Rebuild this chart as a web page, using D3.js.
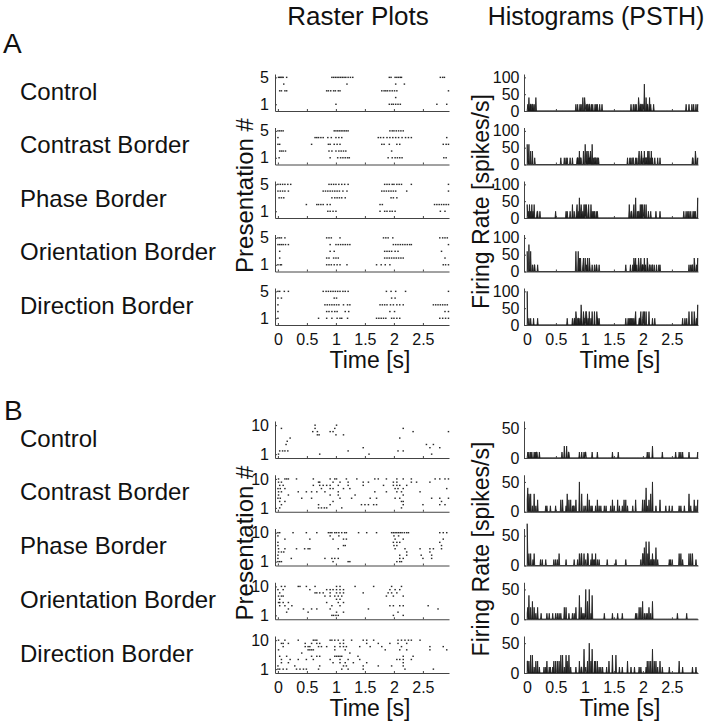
<!DOCTYPE html>
<html>
<head>
<meta charset="utf-8">
<script src="https://cdn.jsdelivr.net/npm/d3@7"></script>
<style>
  body { margin: 0; background: #fff; }
  svg { display: block; font-family: "Liberation Sans", Arial, Helvetica, sans-serif; }
</style>
</head>
<body>
<svg width="712" height="724"></svg>
<script>
// ---- data ----
const conditions = ["Control", "Contrast Border", "Phase Border", "Orientation Border", "Direction Border"];
const timeTicks = [0, 0.5, 1, 1.5, 2, 2.5];
const trialTicksA = [1, 5];
const trialTicksB = [1, 10];
const rateTicksA = [0, 50, 100];
const rateTicksB = [0, 50];
const binWidth = 0.01; // s

// spike times (s), one array per presentation, presentation 1 first
const spikesA_control = [
  [1.00, 1.92, 1.96, 1.99, 2.03, 2.07, 2.11, 2.74, 2.91],
  [2.03],
  [0.03, 0.06, 0.12, 0.15, 0.84, 0.87, 0.91, 0.96, 0.99, 1.04, 1.07, 1.79, 1.83, 1.86, 1.89, 1.93, 1.97, 2.01, 2.05, 2.94],
  [0.10, 1.19, 2.03, 2.18],
  [0.01, 0.03, 0.05, 0.07, 0.09, 0.15, 0.93, 0.96, 0.99, 1.02, 1.05, 1.08, 1.11, 1.14, 1.17, 1.21, 1.25, 1.29, 1.92, 1.95, 2.02, 2.05, 2.08, 2.11, 2.13, 2.80, 2.84, 2.87]
];
const spikesA_contrast = [
  [0.02, 0.90, 1.03, 1.08, 1.12, 1.16, 1.20, 1.23, 1.90, 1.97, 2.02, 2.06, 2.10, 2.14, 2.86, 2.90],
  [0.03, 0.06, 0.09, 0.13, 0.88, 0.93, 1.00, 1.05, 1.09, 1.13, 1.17, 1.96],
  [0.00, 0.03, 0.58, 0.87, 0.90, 0.97, 1.02, 1.07, 1.79, 1.83, 1.92, 2.05, 2.10, 2.85, 2.90, 2.94],
  [0.00, 0.64, 0.67, 0.70, 0.74, 0.78, 0.86, 0.92, 1.00, 1.05, 1.10, 1.73, 1.77, 1.82, 1.88, 1.93, 1.98, 2.03, 2.08, 2.14, 2.20, 2.25, 2.30, 2.91],
  [0.00, 0.03, 0.06, 0.09, 0.97, 1.00, 1.03, 1.06, 1.09, 1.12, 1.15, 1.18, 1.21, 1.93, 1.97, 2.00, 2.04, 2.08, 2.12, 2.16]
];
const spikesA_phase = [
  [0.86, 0.90, 0.95, 1.00, 1.76, 1.84, 1.88, 1.93, 1.97, 2.02, 2.80, 2.88],
  [0.49, 0.67, 0.70, 0.74, 0.78, 0.85, 0.90, 1.76, 1.80, 2.70, 2.74, 2.78, 2.82, 2.86, 2.90, 2.94],
  [0.02, 0.06, 0.10, 0.93, 0.98, 1.02, 1.06, 1.10, 1.16, 1.95, 1.99, 2.05],
  [0.00, 0.04, 0.08, 0.12, 0.18, 0.78, 0.82, 0.86, 0.90, 0.94, 0.98, 1.02, 1.06, 1.12, 1.19, 1.79, 1.83, 1.87, 1.91, 1.95, 1.99, 2.03, 2.22, 2.94],
  [0.00, 0.04, 0.08, 0.12, 0.17, 0.22, 0.88, 0.92, 0.96, 1.00, 1.05, 1.10, 1.15, 1.21, 1.84, 1.88, 1.92, 1.97, 2.00, 2.05, 2.09, 2.13, 2.30, 2.94]
];
const spikesA_orientation = [
  [0.00, 0.04, 0.06, 0.84, 0.88, 0.92, 0.97, 1.02, 1.07, 1.19, 1.70, 1.78, 1.85, 1.93, 2.85, 2.89, 2.94],
  [0.03, 0.84, 0.88, 0.96, 1.00, 1.04, 1.84, 1.88, 1.92, 1.96, 2.00, 2.04, 2.08, 2.12, 2.16, 2.88],
  [0.03, 0.90, 0.97, 1.84, 1.88, 1.92, 1.96, 2.02, 2.07, 2.82],
  [0.00, 0.03, 0.06, 0.09, 0.13, 0.18, 0.90, 1.00, 1.04, 1.08, 1.12, 1.16, 1.20, 1.24, 1.99, 2.03, 2.07, 2.11, 2.15, 2.19, 2.23, 2.27, 2.30, 2.94],
  [0.00, 0.03, 0.06, 0.12, 0.84, 0.88, 0.92, 1.07, 1.82, 1.86, 1.90, 1.98, 2.79, 2.84, 2.88, 2.92]
];
const spikesA_direction = [
  [0.00, 0.70, 0.84, 0.93, 1.02, 1.07, 1.10, 1.20, 1.70, 1.74, 1.78, 1.82, 1.86, 1.96, 2.00, 2.05, 2.10, 2.79, 2.84, 2.89, 2.94],
  [0.00, 0.84, 0.88, 0.93, 0.98, 1.02, 1.16, 1.22, 1.93, 2.01, 2.88, 2.94],
  [0.00, 0.81, 0.85, 0.89, 0.93, 0.97, 1.01, 1.05, 1.13, 1.20, 1.24, 1.76, 1.80, 1.84, 1.88, 1.94, 1.99, 2.05, 2.10, 2.16, 2.68, 2.72, 2.76, 2.80, 2.84, 2.88, 2.92],
  [0.00, 0.06, 0.97, 1.01, 1.96, 2.02],
  [0.00, 0.03, 0.11, 0.18, 0.78, 0.83, 0.87, 0.91, 0.95, 0.99, 1.03, 1.07, 1.12, 1.16, 1.21, 1.87, 1.95, 2.03, 2.20, 2.94]
];

const spikesB_control = [
  [0.01, 0.72, 1.57, 2.65],
  [0.03, 0.08, 0.12, 0.17, 1.21, 2.07, 2.16],
  [1.47, 2.62, 2.79],
  [0.14, 2.56, 2.68],
  [0.16],
  [0.21, 2.10],
  [0.68, 0.71, 1.00, 1.13],
  [0.60, 0.68, 0.90, 0.95, 2.33, 2.94],
  [0.06, 0.64, 0.98, 2.16],
  [0.64, 1.01]
];
const spikesB_contrast = [
  [0.03, 0.70, 0.75, 0.80, 0.84, 1.10, 2.13],
  [0.06, 0.70, 0.90, 1.44, 1.50, 1.56, 1.65, 1.70, 2.16, 2.50, 2.79, 2.88],
  [0.03, 0.12, 0.95, 2.13, 2.16, 2.82],
  [0.00, 0.04, 0.41, 0.58, 1.07, 1.27, 1.59, 1.70, 2.02, 2.10, 2.65, 2.79, 2.94],
  [0.01, 0.18, 0.90, 1.04, 1.33, 2.16],
  [0.01, 0.06, 0.35, 0.49, 0.58, 0.67, 0.81, 1.04, 1.67, 1.87, 2.05, 2.13, 2.45],
  [0.00, 0.04, 0.12, 0.75, 0.90, 0.95, 1.13, 1.24, 2.02, 2.07, 2.16, 2.91],
  [0.03, 0.09, 0.61, 0.72, 0.78, 0.84, 0.90, 1.04, 1.21, 1.47, 1.82, 1.99, 2.05, 2.10, 2.22],
  [0.01, 0.06, 0.70, 0.72, 0.95, 1.07, 1.21, 1.47, 1.56, 1.99, 2.05, 2.30, 2.39, 2.62],
  [0.01, 0.12, 0.15, 0.18, 0.32, 0.61, 0.90, 0.98, 1.01, 1.18, 1.36, 1.67, 1.73, 1.87, 2.05, 2.16, 2.30, 2.71, 2.79, 2.88, 2.94]
];
const spikesB_phase = [
  [0.00, 0.03, 0.06, 0.95, 1.21, 1.24, 2.05, 2.10, 2.13],
  [0.00, 0.23, 0.81, 0.93, 0.98, 1.04, 2.10, 2.16, 2.50, 2.65],
  [0.00, 2.10, 2.22, 2.47, 2.65],
  [0.01, 0.06, 0.10, 2.22, 2.62],
  [0.01, 0.12, 0.32, 0.46, 0.52, 0.55, 1.04, 2.02, 2.19, 2.45, 2.62, 2.68, 2.82],
  [0.00, 1.13, 1.16, 2.00, 2.05, 2.82],
  [0.00, 1.99, 2.05, 2.10, 2.79],
  [0.12, 0.55, 0.95, 1.13, 1.18, 2.02, 2.16, 2.85],
  [0.00, 0.90, 1.05, 2.00, 2.08],
  [0.00, 0.03, 0.26, 0.49, 0.67, 0.87, 0.90, 0.93, 0.98, 1.01, 1.05, 1.10, 1.15, 1.18, 1.39, 1.53, 1.70, 1.96, 1.99, 2.02, 2.05, 2.08, 2.11, 2.14, 2.18, 2.22, 2.25, 2.79, 2.85, 2.91]
];
const spikesB_orientation = [
  [0.93, 0.96, 1.00, 1.04, 1.99, 2.16],
  [0.15, 0.52, 1.01, 1.13, 2.07],
  [0.18, 0.44, 0.58, 0.67, 0.90, 1.56, 2.76],
  [0.03, 0.12, 0.24, 0.93, 1.07, 1.93, 1.99, 2.10, 2.16, 2.59],
  [0.01, 0.03, 0.09, 0.18, 0.84, 1.04, 1.13],
  [0.03, 1.01, 1.07],
  [0.01, 0.06, 0.09, 0.81, 0.90, 0.98, 1.04, 1.10, 1.87, 1.99, 2.16],
  [0.03, 0.64, 0.67, 0.72, 0.78, 0.90, 1.01, 1.07, 1.13, 1.47, 1.90, 1.96, 2.05],
  [0.00, 0.09, 0.55, 0.84, 0.90, 0.95, 1.01, 1.07, 1.13, 1.93, 2.02, 2.10],
  [0.06, 0.12, 0.35, 0.38, 0.49, 0.64, 1.01, 1.07, 1.33, 1.65, 1.96, 2.13]
];
const spikesB_direction = [
  [0.00, 0.03, 0.09, 0.15, 0.32, 0.38, 0.44, 0.49, 0.70, 1.10, 1.21, 1.47, 2.19, 2.68],
  [0.00, 0.29, 0.72, 1.13, 1.18, 1.47, 1.73, 1.96, 2.16],
  [0.06, 0.18, 0.95, 1.07, 1.16, 1.30, 1.53, 2.16],
  [0.06, 0.21, 0.35, 0.49, 0.61, 0.90, 1.07, 1.21, 1.41, 2.05, 2.10, 2.16, 2.30],
  [0.03, 0.15, 0.58, 0.67, 0.72, 0.98, 1.01, 1.04, 1.07, 1.10, 1.38, 2.16, 2.33],
  [0.41, 1.24],
  [0.01, 0.52, 0.55, 0.58, 0.61, 0.98, 1.16, 1.85, 2.10, 2.22, 2.62, 2.91],
  [0.09, 0.47, 0.52, 0.55, 0.70, 0.75, 0.84, 0.98, 1.07, 1.13, 1.18, 1.41, 1.59, 1.79, 2.13, 2.62, 2.85],
  [0.06, 0.09, 0.18, 0.47, 0.58, 0.67, 0.72, 1.07, 1.13, 1.53, 1.73, 1.93, 2.07, 2.22],
  [0.01, 0.12, 0.35, 0.61, 0.64, 0.67, 0.90, 0.93, 0.98, 1.04, 1.13, 1.27, 1.47, 1.53, 1.65, 2.07, 2.13, 2.19, 2.25, 2.30, 2.45]
];

const panelA = [spikesA_control, spikesA_contrast, spikesA_phase, spikesA_orientation, spikesA_direction];
const panelB = [spikesB_control, spikesB_contrast, spikesB_phase, spikesB_orientation, spikesB_direction];

// ---- drawing ----
const svg = d3.select("svg");
const ink = "#111";
const axisInk = "#444";
const timeDomain = [-0.05, 2.95];
const xRaster = d3.scaleLinear().domain(timeDomain).range([275, 449]);
const xHist = d3.scaleLinear().domain(timeDomain).range([524, 698]);
const plotH = 37;

function styleAxis(g) {
  g.attr("font-family", null).attr("font-size", 16);
  g.selectAll("path, line").attr("stroke", axisInk);
  g.selectAll("text").attr("fill", ink);
}

function drawPanel(spikes, opts) {
  const nTrials = spikes[0].length;
  spikes.forEach((trials, i) => {
    const bottom = opts.bottom0 + i * opts.pitch;
    const isLast = i === spikes.length - 1;

    // raster
    const yR = d3.scaleLinear().domain(opts.trialDomain).range([bottom, bottom - plotH]);
    const rg = svg.append("g");
    const dots = trials.flatMap((ts, k) => ts.map(t => ({ t, trial: k + 1 })));
    rg.selectAll("rect")
      .data(dots)
      .enter()
      .append("rect")
      .attr("x", d => xRaster(d.t) - 0.7)
      .attr("y", d => yR(d.trial) - 0.7)
      .attr("width", 1.5)
      .attr("height", 1.4)
      .attr("fill", "#2a2a2a");

    rg.append("g")
      .attr("transform", `translate(0,${bottom})`)
      .call(d3.axisBottom(xRaster).tickValues(timeTicks).tickSize(-2).tickSizeOuter(0).tickPadding(8.5)
        .tickFormat(d => isLast ? d3.format("")(d) : ""))
      .call(styleAxis);
    rg.append("g")
      .attr("transform", `translate(${xRaster.range()[0]},0)`)
      .call(d3.axisLeft(yR).tickValues(opts.trialTicks).tickSize(-2).tickSizeOuter(0).tickPadding(6)
        .tickFormat(d3.format("d")))
      .call(styleAxis);

    // PSTH from the same spikes, drawn through bin centres
    const yH = d3.scaleLinear().domain([0, opts.rateMax]).range([bottom, bottom - plotH]);
    const bins = d3.bin()
      .domain([0, 2.95])
      .thresholds(d3.range(0, 2.95, binWidth))(trials.flat());
    const psth = bins.map(b => ({ t: (b.x0 + b.x1) / 2, r: b.length / (nTrials * binWidth) }));

    const area = d3.area()
      .x(d => xHist(d.t))
      .y0(yH(0))
      .y1(d => yH(d.r));

    const hg = svg.append("g");
    hg.append("path")
      .datum(psth)
      .attr("d", area)
      .attr("fill", "#1a1a1a")
      .attr("stroke", "#1a1a1a")
      .attr("stroke-width", 0.8)
      .attr("stroke-linejoin", "round");

    hg.append("g")
      .attr("transform", `translate(0,${bottom})`)
      .call(d3.axisBottom(xHist).tickValues(timeTicks).tickSize(-2).tickSizeOuter(0).tickPadding(8.5)
        .tickFormat(d => isLast ? d3.format("")(d) : ""))
      .call(styleAxis);
    hg.append("g")
      .attr("transform", `translate(${xHist.range()[0]},0)`)
      .call(d3.axisLeft(yH).tickValues(opts.rateTicks).tickSize(-2).tickSizeOuter(0).tickPadding(4.5))
      .call(styleAxis);

    // condition label
    svg.append("text")
      .attr("x", 20)
      .attr("y", bottom - 11.5)
      .attr("font-size", 24)
      .attr("fill", ink)
      .text(conditions[i]);
  });

  const midY = opts.bottom0 + 2 * opts.pitch - plotH / 2;
  svg.append("text")
    .attr("transform", `translate(253,${midY - 4}) rotate(-90)`)
    .attr("text-anchor", "middle")
    .attr("font-size", 24)
    .attr("fill", ink)
    .text("Presentation #");
  svg.append("text")
    .attr("transform", `translate(489,${midY + 2}) rotate(-90)`)
    .attr("text-anchor", "middle")
    .attr("font-size", 23)
    .attr("fill", ink)
    .text("Firing Rate [spikes/s]");

  const lastBottom = opts.bottom0 + 4 * opts.pitch;
  svg.append("text")
    .attr("x", 370).attr("y", lastBottom + 43)
    .attr("text-anchor", "middle").attr("font-size", 23).attr("fill", ink)
    .text("Time [s]");
  svg.append("text")
    .attr("x", 620).attr("y", lastBottom + 43)
    .attr("text-anchor", "middle").attr("font-size", 23).attr("fill", ink)
    .text("Time [s]");

  svg.append("text")
    .attr("x", opts.letterX).attr("y", opts.letterY)
    .attr("font-size", 28).attr("fill", ink)
    .text(opts.letter);
}

svg.append("text").attr("x", 358).attr("y", 25).attr("text-anchor", "middle")
  .attr("font-size", 26).attr("fill", ink).text("Raster Plots");
svg.append("text").attr("x", 596).attr("y", 25).attr("text-anchor", "middle")
  .attr("font-size", 25).attr("fill", ink).text("Histograms (PSTH)");

drawPanel(panelA, {
  letter: "A", letterX: 3, letterY: 53,
  bottom0: 111, pitch: 53.5,
  trialDomain: [0, 5.5], trialTicks: trialTicksA,
  rateMax: 110, rateTicks: rateTicksA
});
drawPanel(panelB, {
  letter: "B", letterX: 4, letterY: 420,
  bottom0: 458, pitch: 53.75,
  trialDomain: [-0.2, 11.3], trialTicks: trialTicksB,
  rateMax: 62, rateTicks: rateTicksB
});
</script>
</body>
</html>
